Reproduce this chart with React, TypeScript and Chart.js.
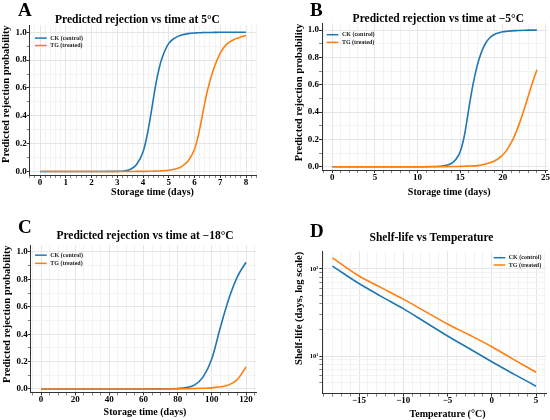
import { useEffect, useRef } from "react"
import { Chart, registerables } from "chart.js"

Chart.register(...registerables)

// series shared by all panels
const seriesNames = ["CK (control)", "TG (treated)"]
const seriesColors = ["#1f77b4", "#ff7f0e"]

// A: 5°C
const daysA = [0, 1, 2, 3, 3.25, 3.5, 3.75, 4, 4.125, 4.25, 4.375, 4.5, 4.625, 4.75, 5, 5.25, 5.5, 5.75, 6, 6.125, 6.25, 6.375, 6.5, 6.75, 7, 7.25, 7.5, 7.75, 8]
const ckA = [0, 0, 0, 0.001, 0.004, 0.015, 0.05, 0.14, 0.23, 0.35, 0.49, 0.63, 0.74, 0.82, 0.92, 0.96, 0.98, 0.99, 0.995, 0.996, 0.997, 0.998, 0.998, 0.999, 1, 1, 1, 1, 1]
const tgA = [0, 0, 0, 0, 0, 0, 0.001, 0.001, 0.001, 0.002, 0.002, 0.003, 0.004, 0.005, 0.009, 0.018, 0.035, 0.075, 0.16, 0.24, 0.35, 0.47, 0.58, 0.74, 0.85, 0.915, 0.945, 0.963, 0.977]

// B: -5°C
const daysB = [0, 5, 10, 12, 13, 14, 14.5, 15, 15.5, 16, 16.5, 17, 17.5, 18, 18.5, 19, 19.5, 20, 20.5, 21, 21.5, 22, 22.5, 23, 23.5, 24]
const ckB = [0, 0, 0, 0.001, 0.005, 0.025, 0.055, 0.11, 0.23, 0.42, 0.6, 0.74, 0.84, 0.905, 0.945, 0.967, 0.979, 0.987, 0.991, 0.994, 0.996, 0.997, 0.998, 0.999, 0.999, 1]
const tgB = [0, 0, 0, 0, 0, 0.001, 0.001, 0.002, 0.003, 0.005, 0.006, 0.008, 0.012, 0.019, 0.028, 0.041, 0.06, 0.087, 0.125, 0.177, 0.244, 0.326, 0.42, 0.52, 0.62, 0.71]

// C: -18°C
const daysC = [0, 20, 40, 60, 70, 80, 85, 90, 95, 100, 105, 110, 115, 120]
const ckC = [0, 0, 0, 0, 0.001, 0.004, 0.01, 0.03, 0.09, 0.22, 0.45, 0.66, 0.82, 0.925]
const tgC = [0, 0, 0, 0, 0, 0.001, 0.002, 0.003, 0.005, 0.008, 0.016, 0.03, 0.07, 0.16]

// D: shelf-life (days) vs temperature
const tempsD = [-18, -15, -12.5, -10, -7.5, -5, -2.5, 0, 2.5, 5]
const ckD = [108, 68, 48.5, 35, 24.4, 17, 12.1, 8.6, 6.2, 4.5]
const tgD = [134, 83, 61, 45, 32.4, 23.3, 17.4, 12.8, 9.1, 6.5]

// tick labels
const probTicks = [0, 0.2, 0.4, 0.6, 0.8, 1.0]
const ticksA = [0, 1, 2, 3, 4, 5, 6, 7, 8]
const ticksB = [0, 5, 10, 15, 20, 25]
const ticksC = [0, 20, 40, 60, 80, 100, 120]
const ticksD = [-15, -10, -5, 0, 5]
const logTicks = [10, 100]
const logLabels = ["10¹", "10²"]

const FONT = "'Liberation Serif', 'Times New Roman', Times, serif"
const W = 275
const H = 210
const MAJOR_GRID = "#e6e6e6"
const MINOR_GRID = "#f3f3f3"

const near = (list: number[], v: number) => list.some((t) => Math.abs(t - v) < 1e-6)
const minus = (v: number) => (v < 0 ? "\u2212" + Math.abs(v) : String(v))
const niceLog = (v: number) => {
  const m = v / Math.pow(10, Math.floor(Math.log10(v) + 1e-9))
  return Math.abs(m - Math.round(m)) < 1e-6
}

const decorPlugin = {
  id: "decor",
  afterDraw(chart: any, _args: any, o: any) {
    const ctx = chart.ctx
    ctx.save()
    ctx.fillStyle = "#000"
    ctx.textBaseline = "alphabetic"
    ctx.textAlign = "left"
    ctx.font = `bold 19px ${FONT}`
    ctx.fillText(o.letter, o.letterX, o.letterY)
    ctx.textAlign = "center"
    ctx.font = `bold 11.5px ${FONT}`
    ctx.fillText(o.title, o.titleX, o.titleY)
    ctx.font = `bold 10px ${FONT}`
    ctx.fillText(o.xTitle, o.xTitleX, o.xTitleY)
    ctx.font = `bold 10.5px ${FONT}`
    ctx.translate(o.yTitleX, o.yTitleY)
    ctx.rotate(-Math.PI / 2)
    ctx.fillText(o.yTitle, 0, 0)
    ctx.restore()
  },
}

const legendPlugin = {
  id: "innerLegend",
  afterDatasetsDraw(chart: any, _args: any, o: any) {
    const { ctx, chartArea } = chart
    const datasets = chart.data.datasets
    ctx.save()
    ctx.font = `bold 6px ${FONT}`
    const lineLen = 11.7
    const gap = 3.5
    const maxW = Math.max(...datasets.map((d: any) => ctx.measureText(d.label).width))
    const x0 = o.side === "right" ? chartArea.right - o.dx - maxW - gap - lineLen : chartArea.left + o.dx
    datasets.forEach((d: any, i: number) => {
      const y = chartArea.top + o.dy + i * o.rowGap
      ctx.strokeStyle = d.borderColor
      ctx.lineWidth = 1.5
      ctx.beginPath()
      ctx.moveTo(x0, y)
      ctx.lineTo(x0 + lineLen, y)
      ctx.stroke()
      ctx.fillStyle = "#222"
      ctx.textAlign = "left"
      ctx.textBaseline = "middle"
      ctx.fillText(d.label, x0 + lineLen + gap, y)
    })
    ctx.restore()
  },
}

const panels = [
  {
    key: "A", letter: "A", title: "Predicted rejection vs time at 5°C",
    xTitle: "Storage time (days)", yTitle: "Predicted rejection probability",
    xs: daysA, ys: [ckA, tgA], xMin: -0.4, xMax: 8.4, xStep: 0.2, xMajor: ticksA, xFmt: String,
    area: { l: 29.7, t: 25.3, r: 256.3, b: 175 },
    text: { letterX: 18, letterY: 16, titleX: 137.5, titleY: 22.8, xTitleX: 152.5, xTitleY: 195, yTitleX: 8.7, yTitleY: 94.2 },
    legend: { side: "left", dx: 5.3, dy: 12.8, rowGap: 7.4 },
    left: 0, top: 0,
  },
  {
    key: "B", letter: "B", title: "Predicted rejection vs time at \u22125°C",
    xTitle: "Storage time (days)", yTitle: "Predicted rejection probability",
    xs: daysB, ys: [ckB, tgB], xMin: -1.2, xMax: 25.2, xStep: 1, xMajor: ticksB, xFmt: String,
    area: { l: 47, t: 23.2, r: 272.7, b: 170.1 },
    text: { letterX: 35, letterY: 15.5, titleX: 163.3, titleY: 22, xTitleX: 174.2, xTitleY: 195, yTitleX: 27, yTitleY: 92.5 },
    legend: { side: "left", dx: 4.7, dy: 11.5, rowGap: 7.7 },
    left: 275, top: 0,
  },
  {
    key: "C", letter: "C", title: "Predicted rejection vs time at \u221218°C",
    xTitle: "Storage time (days)", yTitle: "Predicted rejection probability",
    xs: daysC, ys: [ckC, tgC], xMin: -6, xMax: 126, xStep: 5, xMajor: ticksC, xFmt: String,
    area: { l: 30.75, t: 35.15, r: 256.25, b: 182.4 },
    text: { letterX: 18, letterY: 22.7, titleX: 145, titleY: 28.5, xTitleX: 145, xTitleY: 205, yTitleX: 9.6, yTitleY: 104.2 },
    legend: { side: "left", dx: 4.3, dy: 10, rowGap: 8.2 },
    left: 0, top: 210,
  },
  {
    key: "D", letter: "D", title: "Shelf-life vs Temperature",
    xTitle: "Temperature (°C)", yTitle: "Shelf-life (days, log scale)",
    xs: tempsD, ys: [ckD, tgD], xMin: -19.15, xMax: 6.15, xStep: 1, xMajor: ticksD, xFmt: minus,
    log: true,
    area: { l: 47.3, t: 41.2, r: 271.2, b: 183.6 },
    text: { letterX: 35, letterY: 26.7, titleX: 156.5, titleY: 31, xTitleX: 172.5, xTitleY: 206.6, yTitleX: 27, yTitleY: 98.3 },
    legend: { side: "right", dx: 4.7, dy: 6.5, rowGap: 7.3 },
    left: 275, top: 210,
  },
]

type Panel = (typeof panels)[number] & { log?: boolean }

const tickFont = { family: FONT, size: 9, weight: "bold" as const, lineHeight: 1 }

function PanelChart({ p }: { p: Panel }) {
  const chartRef = useRef<HTMLCanvasElement>(null)
  const chartInstance = useRef<Chart | null>(null)

  useEffect(() => {
    if (!chartRef.current) return
    if (chartInstance.current) chartInstance.current.destroy()
    const ctx = chartRef.current.getContext("2d")
    if (!ctx) return

    const xMajor = (v: number) => near(p.xMajor, v)
    const yMajor = (v: number) => (p.log ? near(logTicks, v) : near(probTicks, v))
    const yShown = (v: number) => (p.log ? niceLog(v) : true)

    chartInstance.current = new Chart(ctx, {
      type: "line",
      data: {
        datasets: p.ys.map((ys, i) => ({
          label: seriesNames[i],
          data: p.xs.map((x, j) => ({ x, y: ys[j] })),
          borderColor: seriesColors[i],
          backgroundColor: seriesColors[i],
          borderWidth: 1.6,
          pointRadius: 0,
          cubicInterpolationMode: "monotone" as const,
          fill: false,
          order: 1 - i,
        })),
      },
      options: {
        animation: false,
        responsive: false,
        events: [],
        layout: { padding: { left: 0, top: p.area.t, right: W - p.area.r, bottom: 0 } },
        plugins: {
          legend: { display: false },
          title: { display: false },
          tooltip: { enabled: false },
          decor: { letter: p.letter, title: p.title, xTitle: p.xTitle, yTitle: p.yTitle, ...p.text },
          innerLegend: p.legend,
        } as any,
        scales: {
          x: {
            type: "linear",
            min: p.xMin,
            max: p.xMax,
            afterFit: (s: any) => {
              s.height = H - p.area.b
            },
            border: { display: true, color: "#333", width: 1 },
            grid: {
              color: (c: any) => (c.tick && xMajor(c.tick.value) ? MAJOR_GRID : MINOR_GRID),
              lineWidth: 1,
              tickLength: 3,
              tickColor: "#333",
              tickWidth: (c: any) => (c.tick && xMajor(c.tick.value) ? 1 : 0.6),
            },
            ticks: {
              stepSize: p.xStep,
              includeBounds: false,
              autoSkip: false,
              maxRotation: 0,
              padding: 0,
              color: "#000",
              font: tickFont,
              callback: (v: any) => (xMajor(Number(v)) ? p.xFmt(Math.round(Number(v))) : ""),
            },
          },
          y: p.log
            ? {
                type: "logarithmic",
                min: 3.7,
                max: 160,
                afterFit: (s: any) => {
                  s.width = p.area.l
                },
                border: { display: true, color: "#333", width: 1 },
                grid: {
                  color: (c: any) =>
                    c.tick && yShown(c.tick.value) ? (yMajor(c.tick.value) ? MAJOR_GRID : MINOR_GRID) : "rgba(0,0,0,0)",
                  lineWidth: 1,
                  tickLength: 3,
                  tickColor: (c: any) => (c.tick && yShown(c.tick.value) ? "#333" : "rgba(0,0,0,0)"),
                  tickWidth: (c: any) => (c.tick && yMajor(c.tick.value) ? 1 : 0.6),
                },
                ticks: {
                  autoSkip: false,
                  padding: 1,
                  color: "#000",
                  font: { ...tickFont, size: 6.5 },
                  callback: (v: any) => {
                    const k = logTicks.findIndex((t) => Math.abs(t - Number(v)) < 1e-6)
                    return k >= 0 ? logLabels[k] : ""
                  },
                },
              }
            : {
                type: "linear",
                min: -0.025,
                max: 1.05,
                afterFit: (s: any) => {
                  s.width = p.area.l
                },
                border: { display: true, color: "#333", width: 1 },
                grid: {
                  color: (c: any) => (c.tick && yMajor(c.tick.value) ? MAJOR_GRID : MINOR_GRID),
                  lineWidth: 1,
                  tickLength: 3,
                  tickColor: "#333",
                  tickWidth: (c: any) => (c.tick && yMajor(c.tick.value) ? 1 : 0.6),
                },
                ticks: {
                  stepSize: 0.1,
                  includeBounds: false,
                  autoSkip: false,
                  padding: 0,
                  color: "#000",
                  font: tickFont,
                  callback: (v: any) => (yMajor(Number(v)) ? Number(v).toFixed(1) : ""),
                },
              },
        } as any,
      },
      plugins: [decorPlugin, legendPlugin],
    })

    return () => {
      if (chartInstance.current) {
        chartInstance.current.destroy()
        chartInstance.current = null
      }
    }
  }, [p])

  return (
    <div style={{ position: "absolute", left: p.left, top: p.top, width: W, height: H }}>
      <canvas ref={chartRef} width={W} height={H} style={{ width: W, height: H, display: "block" }} />
    </div>
  )
}

export default function App() {
  return (
    <div style={{ position: "absolute", left: 0, top: 0, width: 550, height: 420, background: "#fff" }}>
      {panels.map((p) => (
        <PanelChart key={p.key} p={p} />
      ))}
    </div>
  )
}
